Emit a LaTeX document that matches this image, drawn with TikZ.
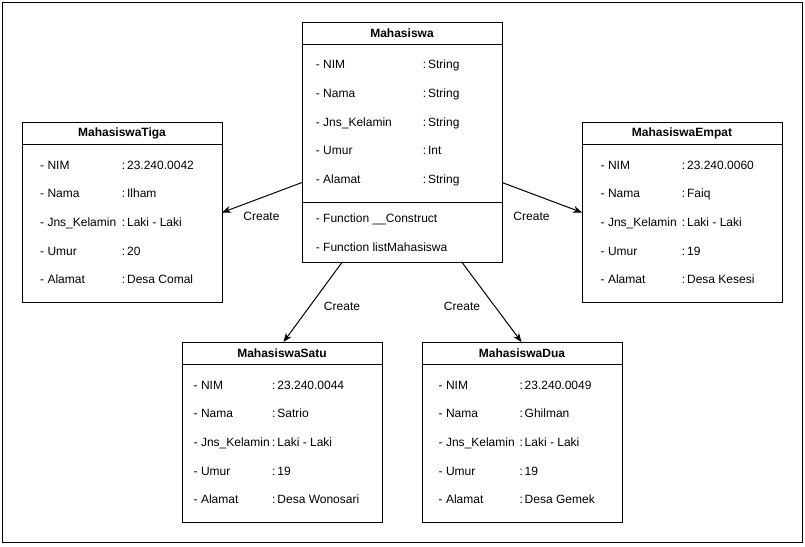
\documentclass[tikz,border=0pt]{standalone}
\usepackage{fontspec}
\setmainfont{Liberation Sans}
\usetikzlibrary{arrows.meta}
\tikzset{
  umlbox/.style={draw, line width=1pt, minimum width=200pt, inner sep=0pt, anchor=north west},
  umltitle/.style={font=\fontsize{12}{14}\selectfont\bfseries, inner sep=0pt, anchor=center},
  attr/.style={font=\fontsize{12}{14}\selectfont, inner sep=0pt, anchor=west, text height=8.6pt, text depth=0pt},
  lbl/.style={font=\fontsize{12}{14}\selectfont, inner sep=0pt, anchor=center},
  divider/.style={line width=1pt},
  conn/.style={line width=1pt, -{Stealth[length=9pt, width=7pt]}},
  frame/.style={line width=1pt}
}
\newcommand\colv[1]{:\kern1.9pt#1}
\begin{document}
\begin{tikzpicture}[x=1pt, y=-1pt]
\useasboundingbox (0,0) rectangle (805,546);
\draw[frame] (2.5,2.5) rectangle (802.5,542.5);

% Mahasiswa
\node[umlbox, minimum height=240pt] (m) at (302,22) {};
\node[umltitle] (m-title) at (402,33.5) {Mahasiswa};
\draw[divider] (302,44.5) -- (502,44.5);
\draw[divider] (302,202) -- (502,202);
\foreach \i/\k/\v in {0/NIM/String, 1/Nama/String, 2/Jns\_Kelamin/String, 3/Umur/Int, 4/Alamat/String} {
  \node[attr] (m-k\i) at (315.7, 64.3+28.75*\i) {- \k};
  \node[attr] (m-v\i) at (422.7, 64.3+28.75*\i) {\colv{\v}};
}
\node[attr] (m-f0) at (315.7, 217.7) {- Function \_\_Construct};
\node[attr] (m-f1) at (315.7, 247) {- Function listMahasiswa};

% MahasiswaTiga
\node[umlbox, minimum height=180pt] (t) at (22,122) {};
\node[umltitle] (t-title) at (122,133.5) {MahasiswaTiga};
\draw[divider] (22,144.5) -- (222,144.5);
\foreach \i/\k/\v in {0/NIM/23.240.0042, 1/Nama/Ilham, 2/Jns\_Kelamin/Laki - Laki, 3/Umur/20, 4/Alamat/Desa Comal} {
  \node[attr] (t-k\i) at (40, 165+28.6*\i) {- \k};
  \node[attr] (t-v\i) at (121.7, 165+28.6*\i) {\colv{\v}};
}

% MahasiswaEmpat
\node[umlbox, minimum height=180pt] (e) at (582,122) {};
\node[umltitle] (e-title) at (682,133.5) {MahasiswaEmpat};
\draw[divider] (582,144.5) -- (782,144.5);
\foreach \i/\k/\v in {0/NIM/23.240.0060, 1/Nama/Faiq, 2/Jns\_Kelamin/Laki - Laki, 3/Umur/19, 4/Alamat/Desa Kesesi} {
  \node[attr] (e-k\i) at (600.5, 165+28.6*\i) {- \k};
  \node[attr] (e-v\i) at (681.7, 165+28.6*\i) {\colv{\v}};
}

% MahasiswaSatu
\node[umlbox, minimum height=180pt] (s) at (182,342) {};
\node[umltitle] (s-title) at (282,353.5) {MahasiswaSatu};
\draw[divider] (182,364.5) -- (382,364.5);
\foreach \i/\k/\v in {0/NIM/23.240.0044, 1/Nama/Satrio, 2/Jns\_Kelamin/Laki - Laki, 3/Umur/19, 4/Alamat/Desa Wonosari} {
  \node[attr] (s-k\i) at (193.5, 385+28.6*\i) {- \k};
  \node[attr] (s-v\i) at (272, 385+28.6*\i) {\colv{\v}};
}

% MahasiswaDua
\node[umlbox, minimum height=180pt] (d) at (422,342) {};
\node[umltitle] (d-title) at (522,353.5) {MahasiswaDua};
\draw[divider] (422,364.5) -- (622,364.5);
\foreach \i/\k/\v in {0/NIM/23.240.0049, 1/Nama/Ghilman, 2/Jns\_Kelamin/Laki - Laki, 3/Umur/19, 4/Alamat/Desa Gemek} {
  \node[attr] (d-k\i) at (438.5, 385+28.6*\i) {- \k};
  \node[attr] (d-v\i) at (519.3, 385+28.6*\i) {\colv{\v}};
}

% connectors
\coordinate (m-out-t) at (302,182.5);
\coordinate (t-in) at (222,212.5);
\coordinate (m-out-e) at (502,182.5);
\coordinate (e-in) at (582,212.5);
\coordinate (m-out-s) at (342.3,262);
\coordinate (s-in) at (283.5,342);
\coordinate (m-out-d) at (461.7,262);
\coordinate (d-in) at (521.5,342);
\draw[conn] (m-out-t) -- (t-in);
\draw[conn] (m-out-e) -- (e-in);
\draw[conn] (m-out-s) -- (s-in);
\draw[conn] (m-out-d) -- (d-in);

\node[lbl] (c1) at (261.5,216.5) {Create};
\node[lbl] (c2) at (531.5,216.5) {Create};
\node[lbl] (c3) at (342,306.7) {Create};
\node[lbl] (c4) at (462,306.7) {Create};
\end{tikzpicture}
\end{document}
